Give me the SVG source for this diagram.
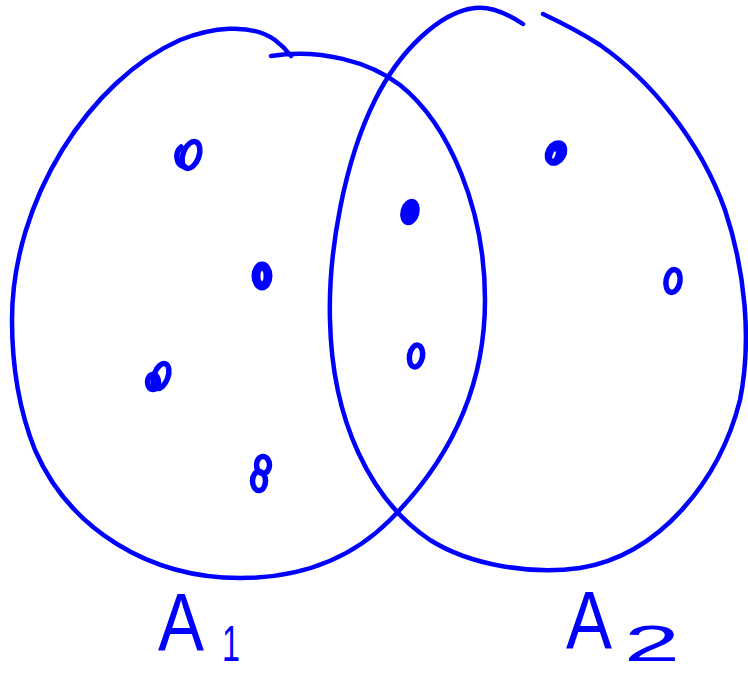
<svg xmlns="http://www.w3.org/2000/svg" width="748" height="673" viewBox="0 0 748 673">
<style>
.ln{fill:none;stroke:#0000ff;stroke-width:4.5;stroke-linecap:round;stroke-linejoin:round}
.dot{fill:none;stroke:#0000ff;stroke-width:5.5;stroke-linecap:round}
.fd{fill:#0000ff;stroke:#0000ff;stroke-width:3}
.lb{fill:#0000ff;font-family:"Liberation Sans",Arial,sans-serif}
</style>
<rect width="748" height="673" fill="#ffffff"/>
<g id="set-A1">
<path class="ln" d="M271,56 C320,48 370,62 400,85 C450,125 485,210 485,300 C485,400 440,470 390,520 C350,560 300,578 240,578 C150,578 70,530 35,450 C15,400 12,350 12,320 C12,200 90,80 180,40 C210,28 250,22 275,40 C283,46 288,52 291,56"/>
</g>
<g id="set-A2">
<path class="ln" d="M523,24 C505,12 490,6 475,8 C440,12 400,50 375,100 C345,160 328,250 330,320 C332,420 370,500 430,540 C470,565 530,575 580,568 C660,555 720,480 740,400 C752,340 745,270 725,210 C700,140 650,80 600,45 C580,32 560,22 543,14"/>
</g>
<g id="elements">
<g id="e1"><ellipse class="dot" cx="191" cy="155" rx="8" ry="14" transform="rotate(20 191 155)"/><path class="dot" d="M181,147 C175,152 175,165 185,167"/></g>
<g id="e2"><ellipse class="fd" cx="262" cy="276" rx="9" ry="13"/><ellipse fill="#ffffff" cx="262" cy="276" rx="1.5" ry="5"/></g>
<g id="e3"><ellipse class="dot" cx="161" cy="376" rx="7" ry="13" transform="rotate(20 161 376)"/><ellipse class="dot" cx="153" cy="382" rx="5.5" ry="7.5"/></g>
<g id="e4"><ellipse class="dot" cx="263" cy="465" rx="6.5" ry="8.5"/><ellipse class="dot" cx="259" cy="481" rx="6.5" ry="9.5"/></g>
<g id="e5"><ellipse class="fd" cx="410" cy="212" rx="8" ry="12" transform="rotate(15 410 212)"/></g>
<g id="e6"><ellipse class="dot" cx="416" cy="356" rx="6.5" ry="11" transform="rotate(10 416 356)"/></g>
<g id="e7"><ellipse class="fd" cx="556" cy="153" rx="9" ry="12" transform="rotate(30 556 153)"/><ellipse fill="#ffffff" cx="554" cy="155" rx="1.2" ry="4" transform="rotate(20 554 155)"/></g>
<g id="e8"><ellipse class="dot" cx="673" cy="281" rx="7" ry="11.5" transform="rotate(10 673 281)"/></g>
</g>
<g id="labels">
<text class="lb" x="158" y="650" font-size="82" textLength="46" lengthAdjust="spacingAndGlyphs">A</text>
<text class="lb" x="222" y="661" font-size="50" textLength="18" lengthAdjust="spacingAndGlyphs">1</text>
<text class="lb" x="566" y="648" font-size="82" textLength="46" lengthAdjust="spacingAndGlyphs">A</text>
<text class="lb" x="624" y="661" font-size="50" textLength="56" lengthAdjust="spacingAndGlyphs">2</text>
</g>
</svg>
